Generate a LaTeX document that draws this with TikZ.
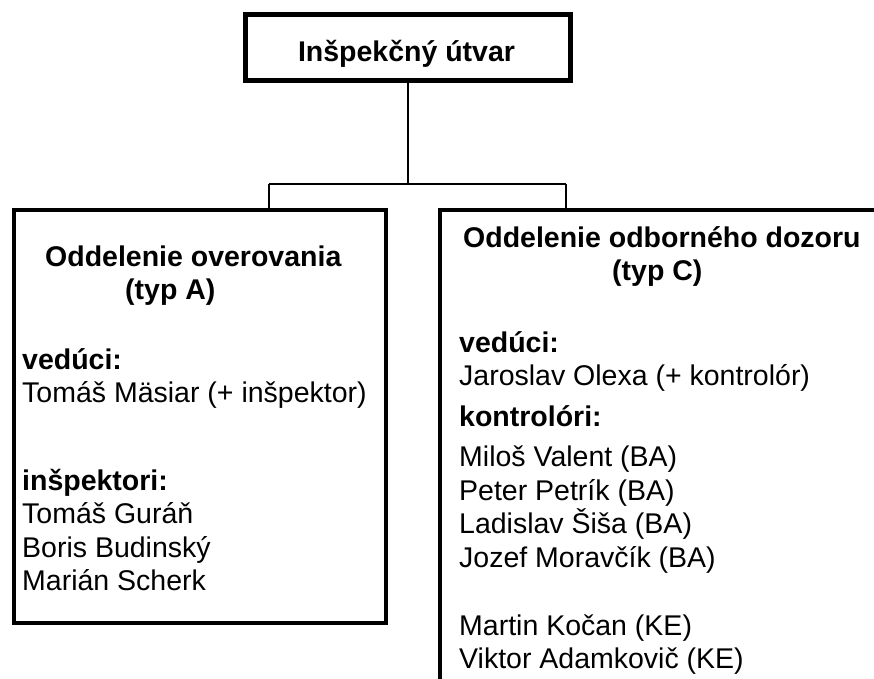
\documentclass[tikz,border=0pt]{standalone}
\usepackage{fontspec}
\setmainfont{Liberation Sans}
\usetikzlibrary{positioning}

\tikzset{
  unitbox/.style={draw, line width=5pt, inner sep=0pt, minimum width=325pt, minimum height=66pt},
  deptbox/.style={draw, line width=4pt, inner sep=0pt, anchor=north west},
  link/.style={line width=1.6pt},
  txt/.style={anchor=base west, inner sep=0pt, font=\fontsize{28.5}{33}\selectfont},
  head/.style={txt, font=\fontsize{28.5}{33}\selectfont\bfseries},
}

\begin{document}
\begin{tikzpicture}[x=1pt,y=-1pt]
  \useasboundingbox (0,0) rectangle (874,678);
  \clip (0,0) rectangle (874,678);

  % boxes
  \node[unitbox] (insp) at (408,47.5) {};
  \node[deptbox, minimum width=372pt, minimum height=413pt] (overovanie) at (12,208) {};
  \node[deptbox, minimum width=500pt, minimum height=600pt] (dozor) at (438,208) {};

  % connectors
  \coordinate (busL) at (269,184);
  \coordinate (busR) at (566,184);
  \draw[link] (insp.south) -- (insp.south |- busL);
  \draw[link] (busL) -- (busR);
  \draw[link] (busL) -- (busL |- overovanie.north);
  \draw[link] (busR) -- (busR |- dozor.north);

  % top unit
  \node[head, anchor=base] (inspName) at (406.5,61) {Inšpekčný útvar};

  % left department
  \node[head] (overHead) at (45,266) {Oddelenie overovania};
  \node[head] (overTyp) at (125,299) {(typ A)};
  \node[head] (overVed) at (22,369) {vedúci:};
  \node[txt] (overVedName) at (22,402) {Tomáš Mäsiar (+ inšpektor)};
  \node[head] (overInsp) at (22,490) {inšpektori:};
  \foreach \name [count=\i] in {Tomáš Guráň, Boris Budinský, Marián Scherk}
    \node[txt] (overInsp\i) at (22,{490+33.5*\i}) {\name};

  % right department
  \node[head] (dozHead) at (463,247) {Oddelenie odborného dozoru};
  \node[head] (dozTyp) at (612,280) {(typ C)};
  \node[head] (dozVed) at (459,352) {vedúci:};
  \node[txt] (dozVedName) at (459,385) {Jaroslav Olexa (+ kontrolór)};
  \node[head] (dozKon) at (459,426) {kontrolóri:};
  \foreach \name [count=\i] in {Miloš Valent (BA), Peter Petrík (BA), Ladislav Šiša (BA), Jozef Moravčík (BA)}
    \node[txt] (dozKon\i) at (459,{433+33.5*\i}) {\name};
  \node[txt] (dozKE1) at (459,635) {Martin Kočan (KE)};
  \node[txt] (dozKE2) at (459,668) {Viktor Adamkovič (KE)};
\end{tikzpicture}
\end{document}
